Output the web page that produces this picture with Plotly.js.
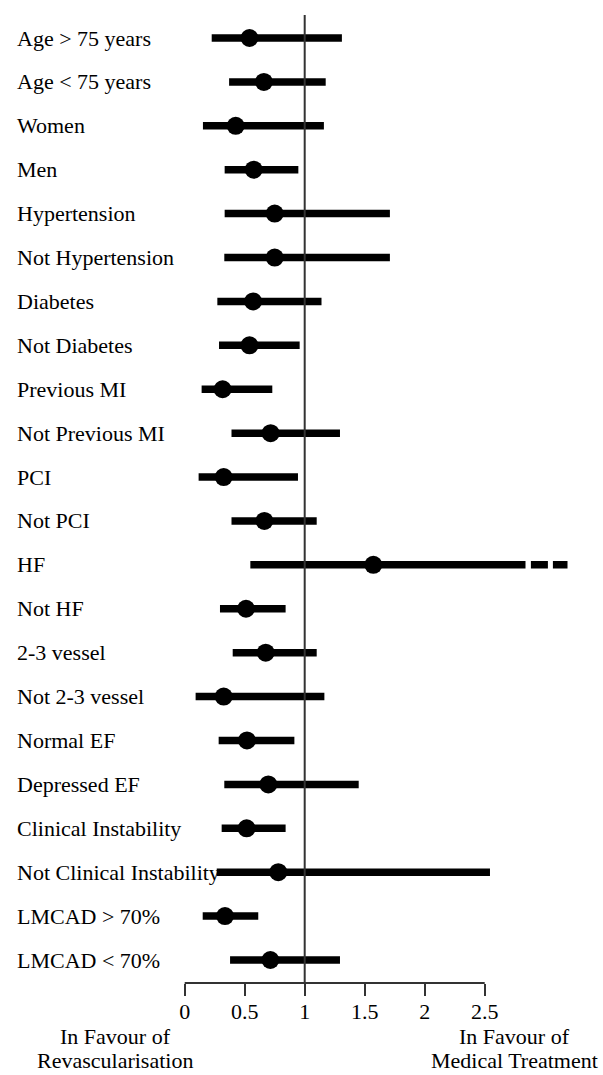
<!DOCTYPE html>
<html>
<head>
<meta charset="utf-8">
<script src="https://cdn.plot.ly/plotly-3.0.1.min.js"></script>
<style>html,body{margin:0;padding:0;background:#fff;}#chart{width:603px;height:1075px;}</style>
</head>
<body>
<div id="chart"></div>
<script>
const categories = ["Age > 75 years","Age < 75 years","Women","Men","Hypertension","Not Hypertension","Diabetes","Not Diabetes","Previous MI","Not Previous MI","PCI","Not PCI","HF","Not HF","2-3 vessel","Not 2-3 vessel","Normal EF","Depressed EF","Clinical Instability","Not Clinical Instability","LMCAD > 70%","LMCAD < 70%"];
const estimate = [0.54,0.66,0.425,0.575,0.75,0.75,0.57,0.54,0.316,0.716,0.325,0.664,1.572,0.511,0.675,0.325,0.519,0.697,0.516,0.78,0.336,0.714];
const lower =    [0.225,0.37,0.152,0.333,0.333,0.33,0.272,0.286,0.141,0.39,0.116,0.39,0.547,0.294,0.40,0.091,0.283,0.33,0.308,0.267,0.15,0.378];
const upper =    [1.31,1.175,1.16,0.947,1.71,1.71,1.14,0.958,0.73,1.294,0.944,1.10,2.84,0.841,1.10,1.164,0.914,1.45,0.841,2.544,0.613,1.294];
// HF upper limit continues off-scale, drawn dashed
const hfIndex = 12;
const hfDashFrom = 2.885;
const hfDashTo = 3.19;
const tickVals = [0,0.5,1,1.5,2,2.5];
const tickText = ["0","0.5","1","1.5","2","2.5"];
const leftLabel = ["In Favour of", "Revascularisation"];
const rightLabel = ["In Favour of", "Medical Treatment"];

const FONT = "'Liberation Serif','Times New Roman',Times,serif";
const rows = categories.map((c,i)=>i);

const lx = [], ly = [];
rows.forEach(i=>{ lx.push(lower[i], upper[i], null); ly.push(i, i, null); });

const traces = [
  {x: lx, y: ly, mode: 'lines', type: 'scatter', line: {color: '#000', width: 7.5}, hoverinfo: 'skip', showlegend: false},
  {x: [hfDashFrom, hfDashTo], y: [hfIndex, hfIndex], mode: 'lines', type: 'scatter', line: {color: '#000', width: 7.5, dash: '17px,5px'}, hoverinfo: 'skip', showlegend: false},
  {x: estimate, y: rows, mode: 'markers', type: 'scatter', marker: {color: '#000', size: 18}, showlegend: false}
];

const plotH = 983;
const annotations = categories.map((c,i)=>({
  text: c, x: 15/603, xref: 'paper', y: i, yref: 'y', xanchor: 'left', yanchor: 'middle',
  showarrow: false, font: {family: FONT, size: 22, color: '#000'}
}));
const lineY = [1036, 1060];
[[leftLabel, 115], [rightLabel, 514]].forEach(([lines, cx])=>{
  lines.forEach((t, k)=>{
    annotations.push({text: t, x: cx/603, xref: 'paper', y: -(lineY[k]-plotH)/plotH, yref: 'paper',
      xanchor: 'center', yanchor: 'middle', showarrow: false, font: {family: FONT, size: 22, color: '#000'}});
  });
});

const layout = {
  width: 603, height: 1075,
  margin: {l: 0, r: 0, t: 0, b: 1075-plotH, pad: 0},
  paper_bgcolor: '#fff', plot_bgcolor: '#fff',
  showlegend: false,
  xaxis: {
    range: [-184.7/120, (603-184.7)/120], showgrid: false, zeroline: false, showline: false,
    tickvals: tickVals, ticktext: tickText, ticks: 'outside', ticklen: 12, tickwidth: 2, tickcolor: '#333',
    ticklabelstandoff: -3,
    tickfont: {family: FONT, size: 22, color: '#000'}, fixedrange: true
  },
  yaxis: {
    range: [21 + 23/43.9, -38/43.9], showgrid: false, zeroline: false, showline: false,
    showticklabels: false, ticks: '', fixedrange: true
  },
  shapes: [
    {type: 'line', xref: 'x', yref: 'paper', x0: 1, x1: 1, y0: 0, y1: 1 - 15/plotH, line: {color: '#333', width: 2}},
    {type: 'line', xref: 'x', yref: 'paper', x0: 0, x1: 2.5, y0: 0, y1: 0, line: {color: '#333', width: 2}}
  ],
  annotations: annotations
};

Plotly.newPlot('chart', traces, layout, {staticPlot: true, displayModeBar: false});
</script>
</body>
</html>
